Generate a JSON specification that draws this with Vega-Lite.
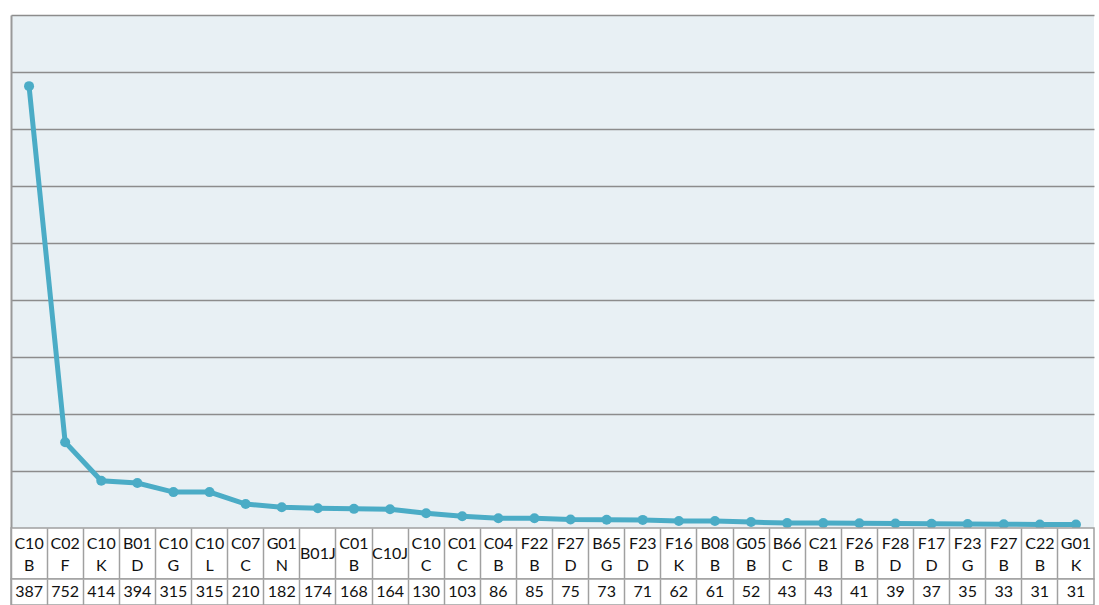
{
  "$schema": "https://vega.github.io/schema/vega-lite/v6.json",
  "padding": {"left": 10, "top": 15, "right": 4, "bottom": 0},
  "background": "#ffffff",
  "bounds": "flush",
  "data": {
    "values": [
      {"cat": "C10B", "lab": "C10\nB", "lines": 2, "value": 3876, "txt": "387"},
      {"cat": "C02F", "lab": "C02\nF", "lines": 2, "value": 752, "txt": "752"},
      {"cat": "C10K", "lab": "C10\nK", "lines": 2, "value": 414, "txt": "414"},
      {"cat": "B01D", "lab": "B01\nD", "lines": 2, "value": 394, "txt": "394"},
      {"cat": "C10G", "lab": "C10\nG", "lines": 2, "value": 315, "txt": "315"},
      {"cat": "C10L", "lab": "C10\nL", "lines": 2, "value": 315, "txt": "315"},
      {"cat": "C07C", "lab": "C07\nC", "lines": 2, "value": 210, "txt": "210"},
      {"cat": "G01N", "lab": "G01\nN", "lines": 2, "value": 182, "txt": "182"},
      {"cat": "B01J", "lab": "B01J", "lines": 1, "value": 174, "txt": "174"},
      {"cat": "C01B", "lab": "C01\nB", "lines": 2, "value": 168, "txt": "168"},
      {"cat": "C10J", "lab": "C10J", "lines": 1, "value": 164, "txt": "164"},
      {"cat": "C10C", "lab": "C10\nC", "lines": 2, "value": 130, "txt": "130"},
      {"cat": "C01C", "lab": "C01\nC", "lines": 2, "value": 103, "txt": "103"},
      {"cat": "C04B", "lab": "C04\nB", "lines": 2, "value": 86, "txt": "86"},
      {"cat": "F22B", "lab": "F22\nB", "lines": 2, "value": 85, "txt": "85"},
      {"cat": "F27D", "lab": "F27\nD", "lines": 2, "value": 75, "txt": "75"},
      {"cat": "B65G", "lab": "B65\nG", "lines": 2, "value": 73, "txt": "73"},
      {"cat": "F23D", "lab": "F23\nD", "lines": 2, "value": 71, "txt": "71"},
      {"cat": "F16K", "lab": "F16\nK", "lines": 2, "value": 62, "txt": "62"},
      {"cat": "B08B", "lab": "B08\nB", "lines": 2, "value": 61, "txt": "61"},
      {"cat": "G05B", "lab": "G05\nB", "lines": 2, "value": 52, "txt": "52"},
      {"cat": "B66C", "lab": "B66\nC", "lines": 2, "value": 43, "txt": "43"},
      {"cat": "C21B", "lab": "C21\nB", "lines": 2, "value": 43, "txt": "43"},
      {"cat": "F26B", "lab": "F26\nB", "lines": 2, "value": 41, "txt": "41"},
      {"cat": "F28D", "lab": "F28\nD", "lines": 2, "value": 39, "txt": "39"},
      {"cat": "F17D", "lab": "F17\nD", "lines": 2, "value": 37, "txt": "37"},
      {"cat": "F23G", "lab": "F23\nG", "lines": 2, "value": 35, "txt": "35"},
      {"cat": "F27B", "lab": "F27\nB", "lines": 2, "value": 33, "txt": "33"},
      {"cat": "C22B", "lab": "C22\nB", "lines": 2, "value": 31, "txt": "31"},
      {"cat": "G01K", "lab": "G01\nK", "lines": 2, "value": 31, "txt": "31"}
    ]
  },
  "spacing": 0,
  "resolve": {"scale": {"x": "shared"}},
  "vconcat": [
    {
      "width": 1083,
      "height": 513,
      "view": {"fill": "#e8f0f4", "stroke": null},
      "mark": {"type": "line", "color": "#4bacc6", "strokeWidth": 5, "point": {"filled": true, "size": 100, "color": "#4bacc6"}},
      "encoding": {
        "x": {"field": "cat", "type": "nominal", "sort": null, "scale": {"type": "band", "paddingInner": 0, "paddingOuter": 0}, "axis": null},
        "y": {
          "field": "value", "type": "quantitative",
          "scale": {"domain": [0, 4500], "nice": false},
          "axis": {"title": null, "labels": false, "ticks": false, "domain": true, "domainColor": "#999999", "domainWidth": 2, "grid": true, "gridColor": "#8c8c8c", "gridWidth": 1.5, "values": [500, 1000, 1500, 2000, 2500, 3000, 3500, 4000, 4500]}
        }
      }
    },
    {
      "width": 1083,
      "height": 51,
      "view": {"fill": "#ffffff", "stroke": "#a0a0a0", "strokeWidth": 1.5},
      "encoding": {
        "x": {"field": "cat", "type": "nominal", "sort": null, "scale": {"type": "band", "paddingInner": 0, "paddingOuter": 0},
          "axis": {"title": null, "labels": false, "ticks": false, "domain": false, "grid": true, "bandPosition": 0, "gridColor": "#a0a0a0", "gridWidth": 1.5}},
        "text": {"field": "lab"}
      },
      "layer": [
        {
          "transform": [{"filter": "datum.lines == 2"}],
          "mark": {"type": "text", "font": "Lato", "fontSize": 16, "color": "#111111", "lineBreak": "\n", "lineHeight": 22, "baseline": "middle", "dy": -10}
        },
        {
          "transform": [{"filter": "datum.lines == 1"}],
          "mark": {"type": "text", "font": "Lato", "fontSize": 16, "color": "#111111", "baseline": "middle", "dy": 0}
        }
      ]
    },
    {
      "width": 1083,
      "height": 26,
      "view": {"fill": "#ffffff", "stroke": "#a0a0a0", "strokeWidth": 1.5},
      "mark": {"type": "text", "font": "Lato", "fontSize": 16, "color": "#111111", "baseline": "middle"},
      "encoding": {
        "x": {"field": "cat", "type": "nominal", "sort": null, "scale": {"type": "band", "paddingInner": 0, "paddingOuter": 0},
          "axis": {"title": null, "labels": false, "ticks": false, "domain": false, "grid": true, "bandPosition": 0, "gridColor": "#a0a0a0", "gridWidth": 1.5}},
        "text": {"field": "txt"}
      }
    }
  ]
}
